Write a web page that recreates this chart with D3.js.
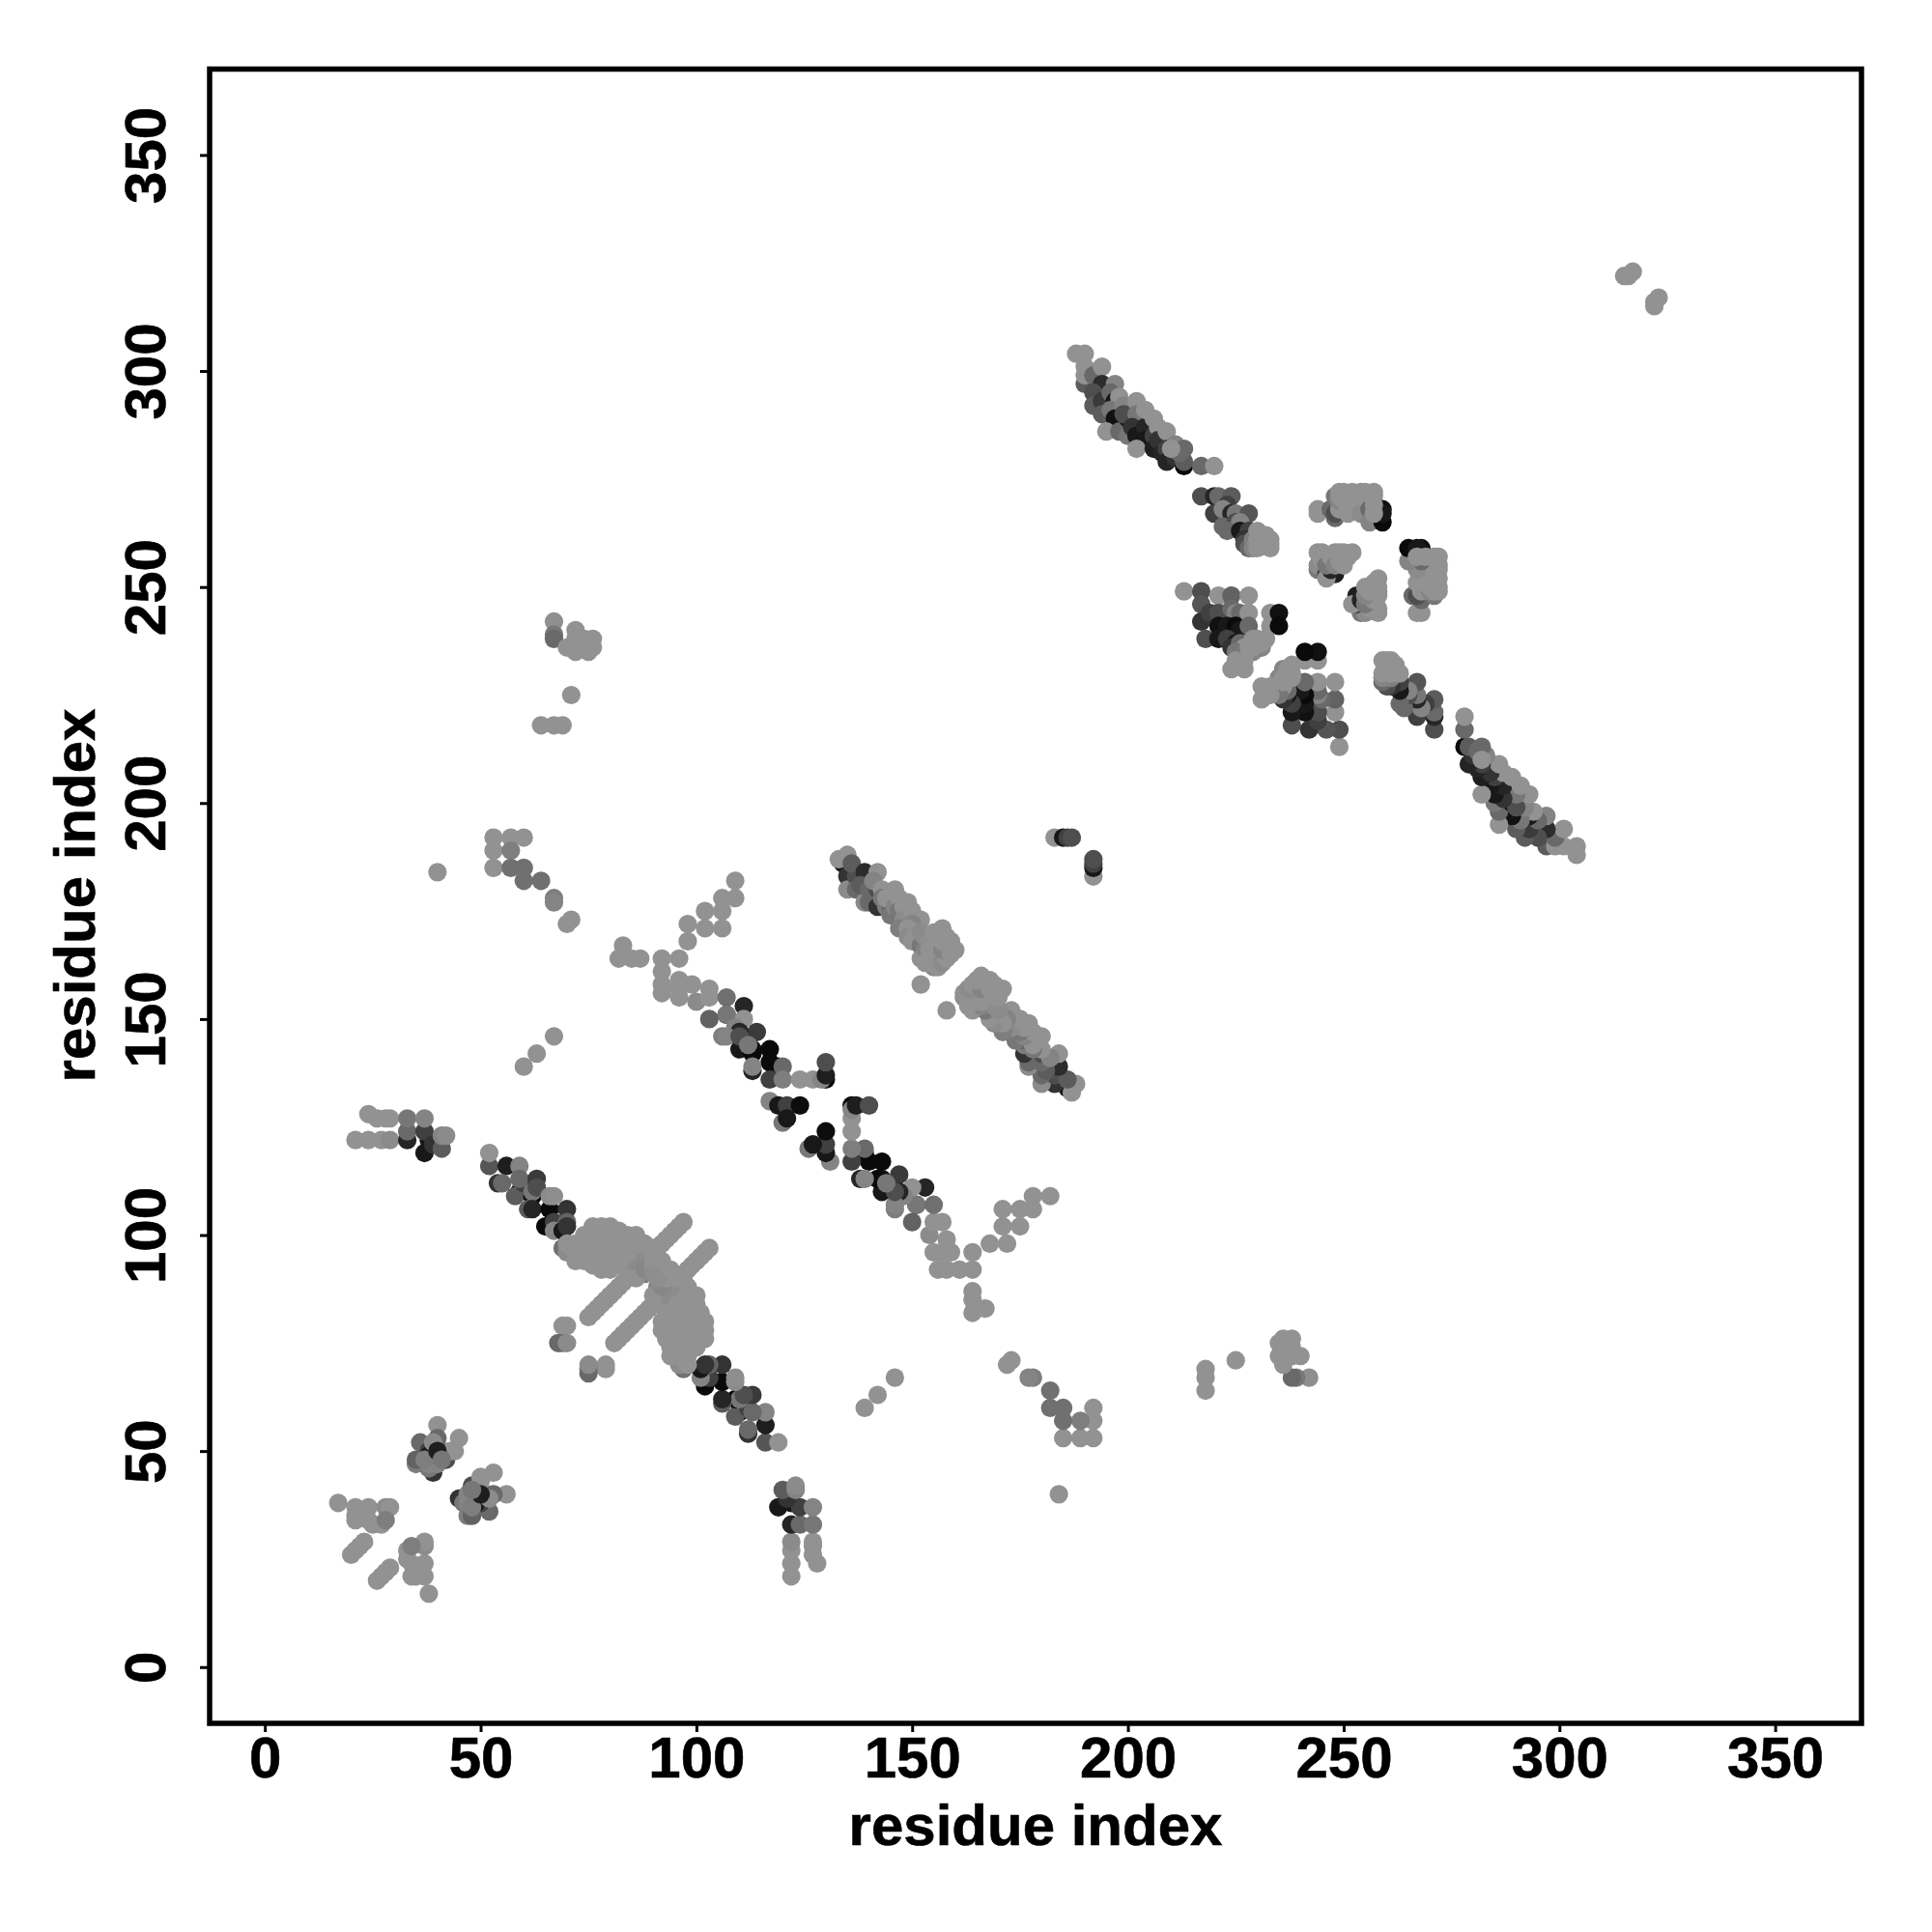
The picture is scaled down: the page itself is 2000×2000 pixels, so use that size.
<!DOCTYPE html>
<html><head><meta charset="utf-8">
<script src="https://cdn.jsdelivr.net/npm/d3@7/dist/d3.min.js"></script>
<style>html,body{margin:0;padding:0;background:#fff}svg{display:block}</style></head>
<body><svg id="c" width="2000" height="2000"></svg>
<script>
// Residue contacts [i, j, weight]; the map is symmetric so each contact is drawn at (i,j) and (j,i).
const tickValues = [0,50,100,150,200,250,300,350];
const axisTitle = "residue index";
const contactsN1 = [[17,38,0],[21,37,0],[24,37,0],[28,37,.05],[29,37,0],[21,35,0],[21,34,0],[24,34,0],[25,33,0],[27,33,0],[28,34,.15],[23,35,0],[20,26,0],[21,27,0],[22,28,0],[23,29,0]];
const contactsN2 = [[35,47,.15],[35,48,.35],[36,52,.3],[38,50,.6],[38,49,.9],[39,48,.7],[39,46,.8],[39,45,.7],[42,49,.7],[40,56,0],[45,53,0],[40,53,.3],[38,46,.2],[41,50,.3],[40,47,.1],[42,48,.5],[38,47,.1],[39,52,.05],[37,48,.15],[43,50,0],[44,50,0],[40,50,.85],[41,48,.2]];
const contactsN3 = [[21,122,0],[24,122,0],[27,122,0],[29,122,.05],[24,128,0],[26,127,0],[28,127,0],[29,127,0],[33,122,.8],[33,124,.3],[33,127,.2],[37,119,.9],[38,122,.9],[37,124,.6],[39,121,.7],[37,127,.1],[41,120,.4],[41,123,.1],[42,123,.05]];
const strandA = [[52,116,.45],[52,119,0],[56,116,.85],[54,112,.7],[55,112,.3],[59,116,.1],[59,110,.9],[58,109,.4],[60,112,.6],[59,113,.3],[63,113,.65],[62,109,1],[62,110,.2],[63,111,.5],[61,106,.4],[62,106,.8],[66,106,1],[65,102,1],[67,103,.6],[66,109,.05],[67,109,.03],[70,106,.7],[70,103,.35],[67,101,.1],[69,101,.9],[70,102,.7]];
const helixBlob = [[69,97,.25],[70,96,.05],[70,98,0],[72,98,0],[72,96,0],[72,94,0],[74,100,0],[74,98,0],[74,96,0],[74,94,0],[76,102,0],[76,100,0],[76,98,0],[76,96,0],[76,94,0],[76,93,0],[78,102,0],[78,100,0],[78,98,0],[78,96,0],[78,94,0],[78,92,0],[80,102,0],[80,100,0],[80,98,0],[80,96,0],[80,94,0],[80,92,0],[82,101,0],[82,99,0],[82,97,0],[82,95,0],[82,93,0],[84,100,0],[84,98,0],[84,96,0],[84,94,0],[84,92,0],[88,91,.15],[89,92,.2],[86,100,0],[86,98,0],[86,96,0],[86,94,0],[86,92,.05],[86,90,0],[88,98,0],[88,96,0],[88,94,.05],[88,92,.08],[90,97,0],[90,95,0],[90,93,0],[90,91,.03],[92,94,0]];
const helixLines = [[75,81,0],[76,82,0],[77,83,0],[78,84,0],[79,85,0],[80,86,0],[81,87,0],[82,88,0],[83,89,0],[84,90,0],[90,96,0],[91,97,0],[92,98,0],[93,99,0],[94,100,0],[95,101,0],[96,102,0],[97,103,0]];
const loopA = [[69,79,0],[70,79,0],[69,75,.15],[68,75,.3],[70,75,.05],[60,139,0],[63,142,0],[67,146,0],[40,184,0]];
const branchB = [[53,192,0],[53,189,0],[53,185,0],[57,192,0],[60,192,0],[57,189,.15],[57,185,.25],[60,185,.25],[60,182,.25],[64,182,.25],[67,178,.15],[67,177,.1],[70,172,0],[71,173,0]];
const branchC = [[109,182,0],[109,178,0],[106,178,0],[102,175,0],[106,175,0],[102,171,0],[106,171,0],[98,172,0],[98,168,0],[96,164,0],[92,164,0],[92,161,0],[82,164,0],[83,167,0],[85,164,0],[87,164,0],[92,156,0],[92,158,0],[96,159,0],[96,155,0],[96,157,0],[99,158,0],[100,154,.05],[103,155,0],[103,157,0]];
const strandB = [[107,155,.25],[103,150,.35],[107,151,.85],[107,151,.2],[111,153,.8],[111,150,0],[109,148,.1],[114,147,.65],[106,146,.15],[110,147,.8],[107,146,.1],[110,143,.9],[113,143,.95],[110,146,.5],[117,143,1],[113,142,1],[112,144,.2],[119,139,.9],[117,140,1],[113,138,.8],[113,139,.1],[120,139,.3],[117,136,.6],[120,136,.15],[124,136,0],[127,136,0],[130,136,1],[129,136,.1],[130,137,.85],[130,140,.5],[117,131,.1],[119,130,.9],[121,130,.6],[124,130,.98],[120,126,.2],[121,127,.9]];
const strandC = [[134,186,.9],[135,183,.7],[133,187,0],[135,188,0],[135,180,.05],[137,183,.5],[136,186,.4],[139,184,.75],[142,184,0],[137,180,.3],[138,181,.4],[139,177,.05],[140,180,.3],[140,177,.3],[142,176,.7],[142,180,.5],[141,182,.1],[143,180,0],[143,178,.2],[144,176,.15],[146,180,0],[145,176,.3],[145,174,.2],[144,178,0],[146,176,.1],[147,178,0],[149,177,0],[147,175,.2],[148,176,0],[148,173,.05],[152,173,0],[150,175,0],[147,171,.15],[150,172,.1],[149,171,0],[149,169,.05],[151,170,0],[150,168,0],[152,167,.2],[153,169,0],[152,170,.05],[152,164,0],[153,166,.1],[155,164,.2],[156,167,.1],[154,168,.03],[155,162,.05],[156,162,0],[153,163,0],[157,163,.05],[158,164,0],[155,170,0],[156,170,0],[157,171,0],[154,166,0],[157,166,.1],[157,168,0],[158,169,0],[159,168,0],[159,165,0],[160,166,0],[152,158,0]];
const spurD = [[183,192,0],[185,192,.9],[186,192,.6],[187,192,.5]];
const spurE = [[64,218,0],[67,218,0],[69,218,0],[71,225,0],[67,242,.02],[67,239,.2],[67,238,.3],[72,240,0],[72,238,0],[74,238,0],[76,238,0],[76,236,0],[75,235,0],[72,235,0],[71,236,0],[73,236,0],[70,236,0]];
const spurF = [[316,322,0],[317,323,0],[315,322,0]];
const strandD = [[188,304,0],[190,304,0],[190,297,.4],[190,299,0],[190,301,0],[192,299,.3],[194,301,0],[194,297,.75],[192,295,.5],[192,292,.4],[197,297,.1],[194,293,.65],[194,290,.4],[196,295,.3],[197,293,.9],[198,294,0],[196,291,.2],[197,289,.95],[195,286,0],[198,286,.3],[200,289,.95],[199,292,.1],[199,290,.5],[202,293,0],[202,290,.2],[200,285,.2],[201,287,.7],[202,285,.9],[204,287,.8],[204,284,.9],[204,291,0],[206,289,0],[206,285,.6],[202,282,0],[206,282,.85],[207,287,0],[207,284,.7],[209,286,0],[208,281,.8],[209,282,.6],[209,279,.8],[211,280,.7],[213,278,1],[213,279,.4],[211,283,.1],[212,281,.3],[213,282,.3],[210,282,0],[217,278,.3],[220,278,0]];
const clusterE = [[217,271,.5],[220,271,.8],[221,271,.3],[224,271,.4],[223,269,.6],[220,267,.6],[222,268,.1],[224,267,.8],[225,267,.2],[228,267,.45],[222,264,.3],[225,265,.5],[226,265,.1],[223,263,.3],[226,263,.9],[228,263,.6],[227,261,.7],[227,260,.5],[228,259,.3],[229,261,.15],[229,259,.1],[230,263,0],[231,262,0],[230,259,0],[230,261,0],[233,261,0],[231,260,0],[232,262,0],[233,259,0],[233,260,0],[232,260,0]];
const clusterF = [[244,268,0],[244,267,0],[247,268,.3],[248,266,.3],[248,267,.5],[249,268,0],[248,271,.2],[249,270,.1],[250,270,0],[249,271,0],[249,272,0],[250,272,0],[251,270,0],[251,267,0],[251,271,0],[252,270,0],[252,272,0],[253,268,0],[253,271,0],[254,270,0],[254,272,0],[254,267,.05],[254,271,0],[255,272,0],[256,268,.3],[256,265,.1],[257,272,0],[257,271,0],[259,265,1],[259,268,.95],[259,267,.9],[257,269,0],[257,267,0]];
const clusterG = [[244,254,.2],[244,255,.05],[246,253,.6],[248,253,.85],[244,258,0],[245,258,0],[245,256,0],[246,252,0],[247,254,.8],[248,258,0],[246,255,.2],[247,257,0],[248,255,.1],[249,256,0],[250,255,0],[249,258,0],[250,258,0],[251,257,0],[252,258,0]];
const clusterI = [[213,249,0],[217,249,.5],[217,246,.45],[221,248,0],[224,248,.35],[228,248,0],[217,242,.7],[219,244,.6],[221,244,.5],[224,245,.3],[225,244,.1],[226,244,.3],[228,244,0],[221,241,.95],[223,241,.9],[225,241,1],[226,240,.9],[228,241,.3],[218,238,.5],[221,238,.9],[223,238,.6],[225,237,.9],[224,236,.7],[233,241,0],[233,244,0],[235,244,.95],[235,241,1],[227,237,.6],[226,237,.3],[227,234,.3],[226,234,.3],[232,238,0],[229,238,0],[231,236,.1],[227,236,0],[225,235,.2],[225,233,0],[225,232,0],[224,231,0],[228,235,.2],[229,235,.1],[230,237,.15],[229,236,0],[230,238,0],[231,237,0],[227,233,0],[227,231,0],[228,236,0]];

const allContacts = [].concat(contactsN1,contactsN2,contactsN3,strandA,helixBlob,helixLines,loopA,branchB,branchC,strandB,strandC,spurD,spurE,spurF,strandD,clusterE,clusterF,clusterG,clusterI);

const svg = d3.select("#c");
const x = d3.scaleLinear().domain([-12.8,370]).range([217,1927]);
const y = d3.scaleLinear().domain([-12.8,370]).range([1783,71]);
const shade = d3.scaleLinear().domain([0,1]).range(["#929292","#0a0a0a"]);
const r = 9.6;
const font = "'Liberation Sans', Arial, sans-serif";

const pts = allContacts.flatMap(d => [{a:d[0],b:d[1],w:d[2]},{a:d[1],b:d[0],w:d[2]}]);
svg.append("g").selectAll("circle").data(pts).join("circle")
  .attr("cx",d=>x(d.a)).attr("cy",d=>y(d.b)).attr("r",r).attr("fill",d=>shade(d.w));

const ax = svg.append("g").attr("transform","translate(0,1783)").call(d3.axisBottom(x).tickValues(tickValues).tickSize(10));
const ay = svg.append("g").attr("transform","translate(217,0)").call(d3.axisLeft(y).tickValues(tickValues).tickSize(10));
[ax,ay].forEach(g=>{
  g.select(".domain").remove();
  g.selectAll("line").attr("stroke","#000").attr("stroke-width",3);
  g.selectAll("text").attr("font-family",font).attr("font-weight","bold").attr("font-size",60)
    .attr("fill","#000").attr("stroke","#000").attr("stroke-width",.6);
});
ax.selectAll("text").attr("y",57).attr("dy",0);
ay.selectAll("text").attr("text-anchor","middle").attr("dy",0).attr("x",0).attr("y",0)
  .attr("transform","translate(-46,0) rotate(-90)");
svg.append("rect").attr("x",217).attr("y",71.5).attr("width",1710).attr("height",1712.5).attr("fill","none").attr("stroke","#000").attr("stroke-width",5.5);
svg.append("text").attr("x",1072).attr("y",1910).attr("text-anchor","middle").attr("font-family",font).attr("font-weight","bold").attr("font-size",60).attr("stroke","#000").attr("stroke-width",.6).text(axisTitle);
svg.append("text").attr("transform","translate(98,927) rotate(-90)").attr("text-anchor","middle").attr("font-family",font).attr("font-weight","bold").attr("font-size",60).attr("stroke","#000").attr("stroke-width",.6).text(axisTitle);
</script></body></html>
